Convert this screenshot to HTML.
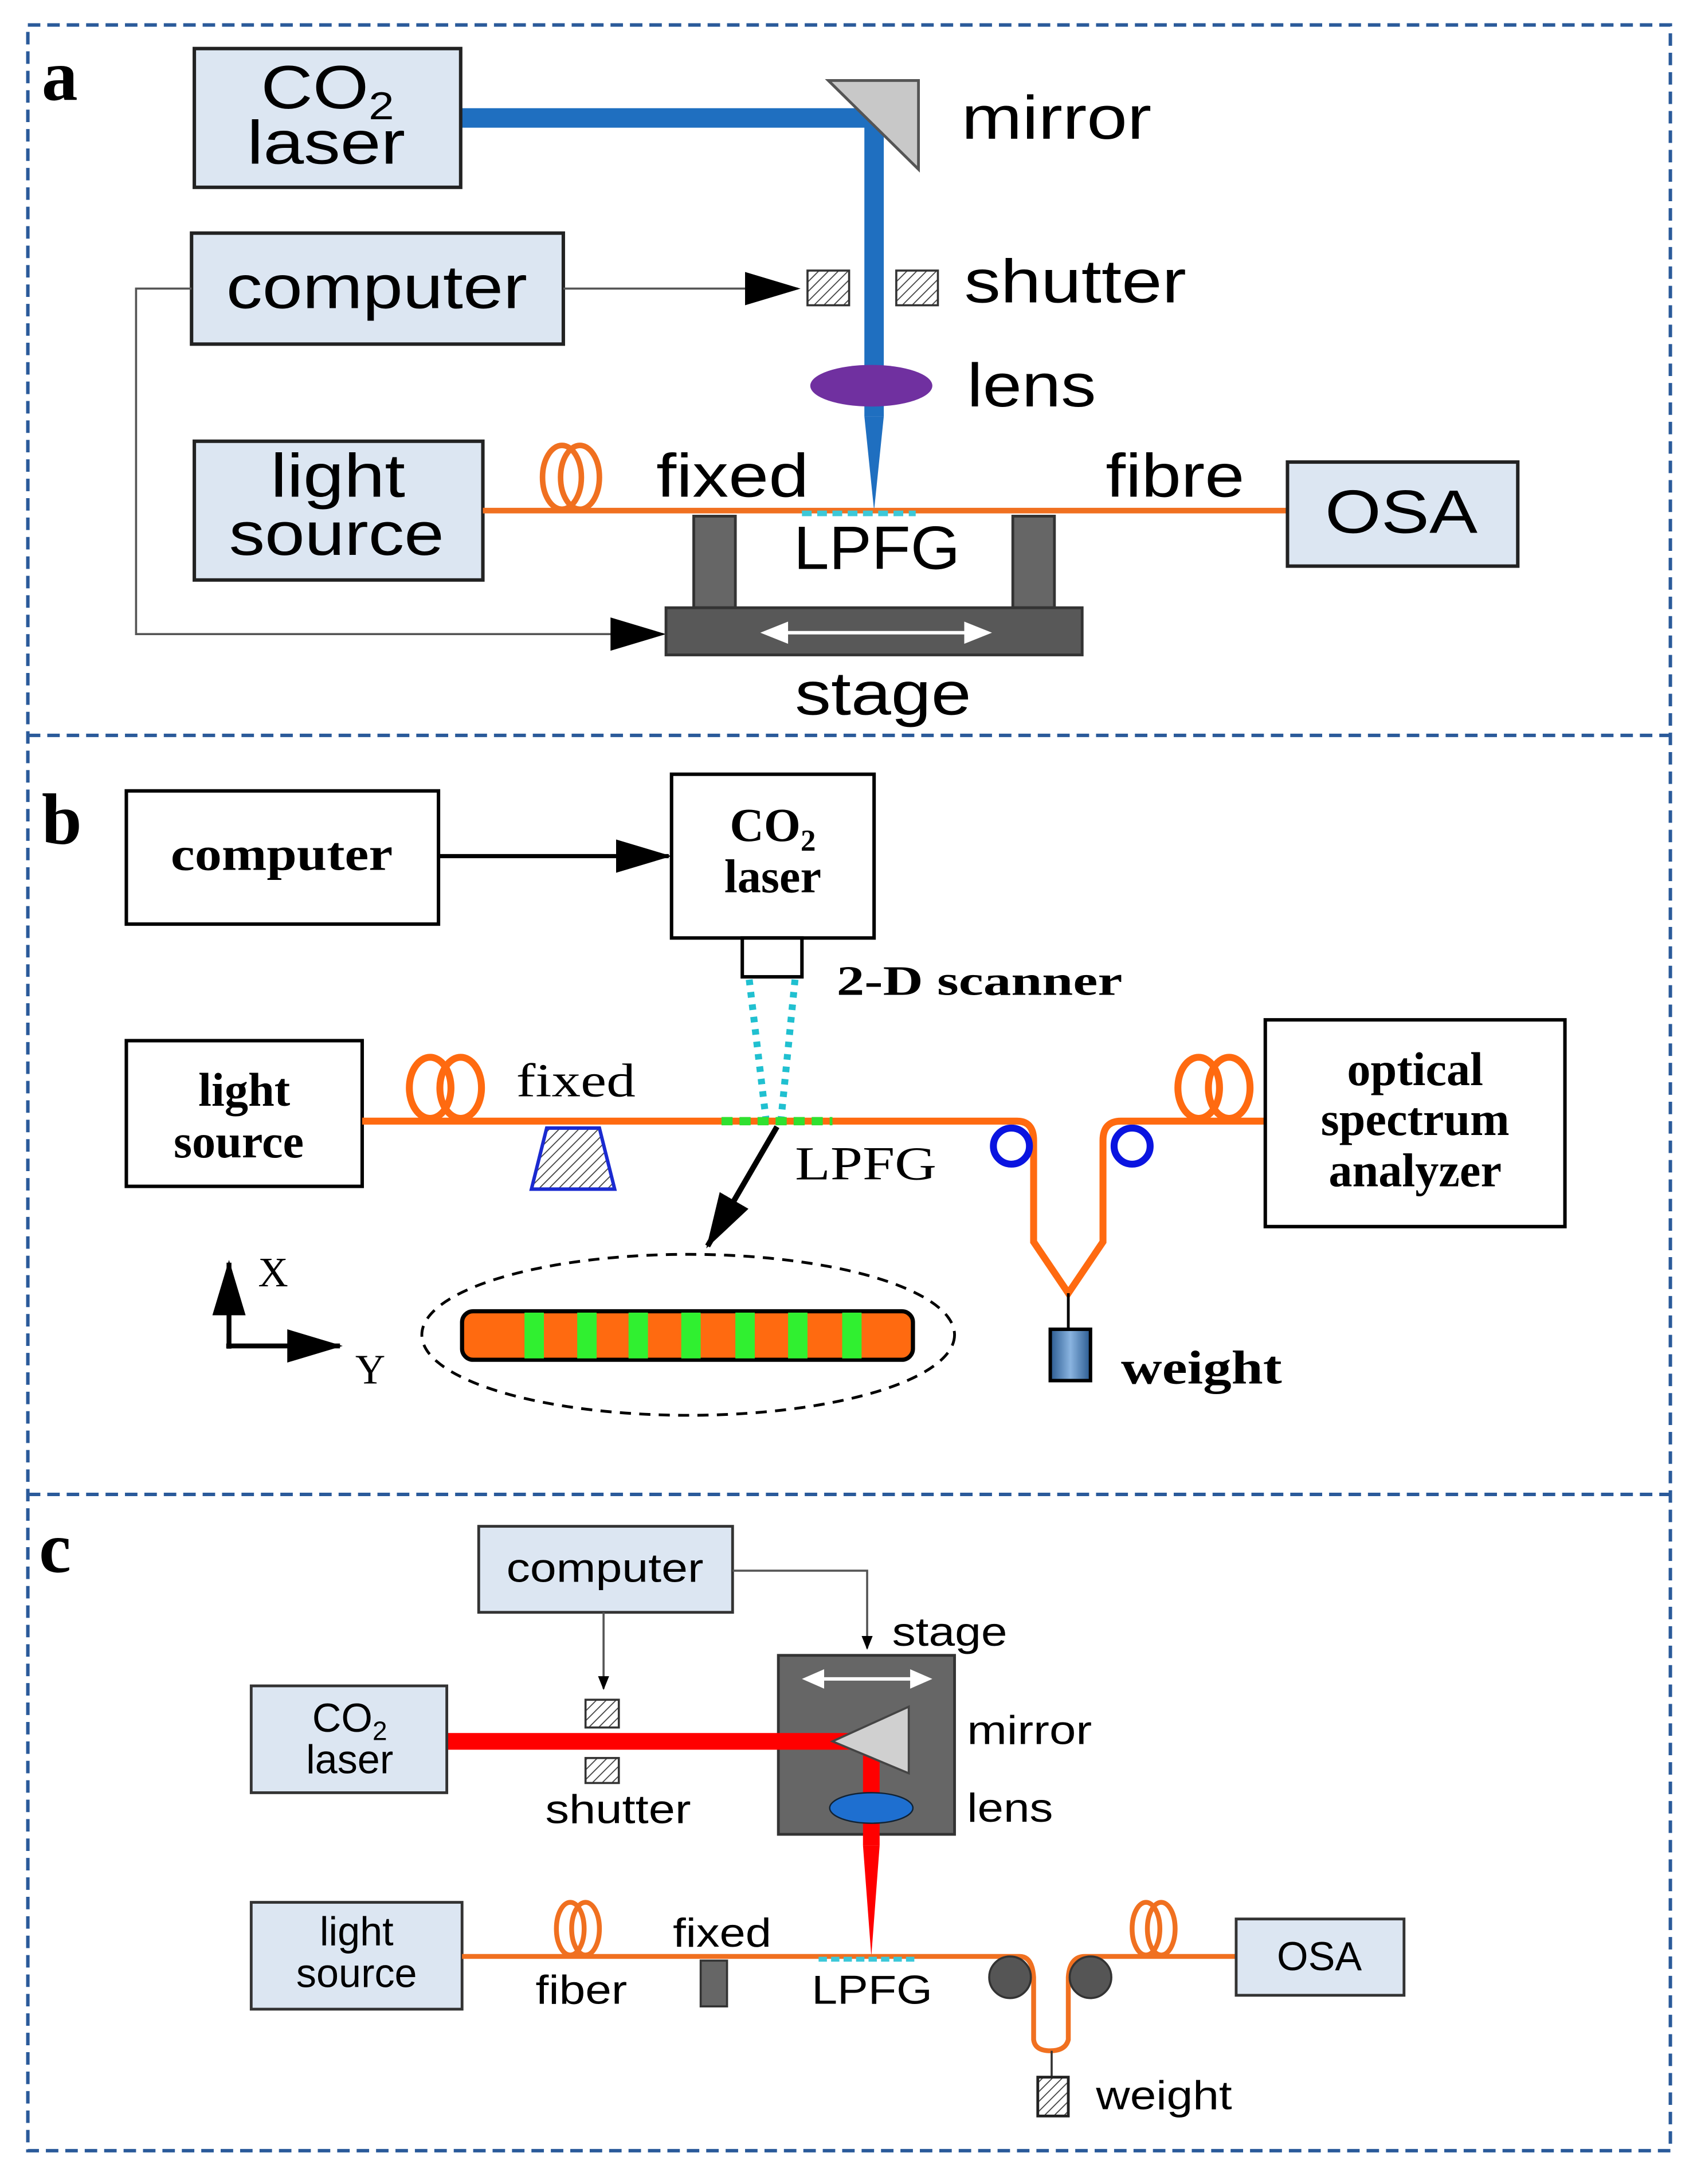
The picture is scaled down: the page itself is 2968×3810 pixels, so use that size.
<!DOCTYPE html>
<html><head><style>html,body{margin:0;padding:0;background:#fff}svg{display:block}</style></head>
<body>
<svg width="2968" height="3810" viewBox="0 0 1226 1574" xmlns="http://www.w3.org/2000/svg">
<defs>
<pattern id="h" width="5" height="5" patternUnits="userSpaceOnUse" patternTransform="rotate(45)"><rect width="5" height="5" fill="#fff"/><line x1="0" y1="0" x2="0" y2="5" stroke="#444" stroke-width="1.5"/></pattern>
<marker id="ar" markerWidth="10" markerHeight="8" refX="9" refY="4" orient="auto" markerUnits="userSpaceOnUse"><path d="M0,0 L10,4 L0,8z" fill="#000"/></marker>
<marker id="arb" markerWidth="40" markerHeight="24" refX="38" refY="12" orient="auto" markerUnits="userSpaceOnUse"><path d="M0,0 L40,12 L0,24z" fill="#000"/></marker>
<linearGradient id="wg" x1="0" x2="1"><stop offset="0" stop-color="#2a5a90"/><stop offset=".5" stop-color="#8ab4e0"/><stop offset="1" stop-color="#2a5a90"/></linearGradient>
</defs>
<g fill="none" stroke="#2a5a9a" stroke-width="2.5" stroke-dasharray="9,5">
<rect x="20" y="18" width="1184" height="1532"/>
<line x1="20" y1="530" x2="1204" y2="530"/><line x1="20" y1="1077" x2="1204" y2="1077"/>
</g>
<!-- Panel a -->
<g font-family="Liberation Sans, sans-serif" font-size="44" fill="#000" lengthAdjust="spacingAndGlyphs">
<text x="30" y="72" font-family="Liberation Serif, serif" font-weight="bold" font-size="52">a</text>
<path d="M332,85 H630 V300" stroke="#1f6fc0" stroke-width="14" fill="none"/>
<path d="M623,300 L637,300 L630,368z" fill="#1f6fc0"/>
<polygon points="597,58 662,58 662,122" fill="#c8c8c8" stroke="#555" stroke-width="2"/>
<rect x="140" y="35" width="192" height="100" fill="#dce6f2" stroke="#222" stroke-width="2.5"/>
<text x="188" y="78" textLength="96" lengthAdjust="spacingAndGlyphs">CO<tspan font-size="28" dy="8">2</tspan></text>
<text x="178" y="118" textLength="114" lengthAdjust="spacingAndGlyphs">laser</text>
<text x="693" y="100" textLength="137" lengthAdjust="spacingAndGlyphs">mirror</text>
<rect x="138" y="168" width="268" height="80" fill="#dce6f2" stroke="#222" stroke-width="2.5"/>
<text x="163" y="222" textLength="217" lengthAdjust="spacingAndGlyphs">computer</text>
<line x1="406" y1="208" x2="575" y2="208" stroke="#555" stroke-width="1.5" marker-end="url(#arb)"/>
<rect x="582" y="195" width="30" height="25" fill="url(#h)" stroke="#333" stroke-width="1.5"/>
<rect x="646" y="195" width="30" height="25" fill="url(#h)" stroke="#333" stroke-width="1.5"/>
<text x="695" y="218" textLength="160" lengthAdjust="spacingAndGlyphs">shutter</text>
<ellipse cx="628" cy="278" rx="44" ry="15" fill="#7030a0"/>
<text x="697" y="293" textLength="93" lengthAdjust="spacingAndGlyphs">lens</text>
<path d="M138,208 H98 V457 H478" stroke="#555" stroke-width="1.5" fill="none" marker-end="url(#arb)"/>
<rect x="140" y="318" width="208" height="100" fill="#dce6f2" stroke="#222" stroke-width="2.5"/>
<text x="195" y="358" textLength="97" lengthAdjust="spacingAndGlyphs">light</text>
<text x="165" y="400" textLength="155" lengthAdjust="spacingAndGlyphs">source</text>
<line x1="348" y1="368" x2="928" y2="368" stroke="#f07020" stroke-width="4"/>
<ellipse cx="405" cy="344" rx="14" ry="23" fill="none" stroke="#f07020" stroke-width="4"/>
<ellipse cx="418" cy="344" rx="14" ry="23" fill="none" stroke="#f07020" stroke-width="4"/>
<line x1="578" y1="370" x2="660" y2="370" stroke="#3cc8d8" stroke-width="4" stroke-dasharray="7,4"/>
<text x="473" y="358" textLength="110" lengthAdjust="spacingAndGlyphs">fixed</text>
<text x="797" y="358" textLength="100" lengthAdjust="spacingAndGlyphs">fibre</text>
<text x="572" y="410" textLength="120" lengthAdjust="spacingAndGlyphs">LPFG</text>
<rect x="928" y="333" width="166" height="75" fill="#dce6f2" stroke="#222" stroke-width="2.5"/>
<text x="955" y="384" textLength="110" lengthAdjust="spacingAndGlyphs">OSA</text>
<rect x="500" y="372" width="30" height="66" fill="#666" stroke="#333" stroke-width="2"/>
<rect x="730" y="372" width="30" height="66" fill="#666" stroke="#333" stroke-width="2"/>
<rect x="480" y="438" width="300" height="34" fill="#585858" stroke="#333" stroke-width="2"/>
<line x1="560" y1="456" x2="703" y2="456" stroke="#fff" stroke-width="2.5"/>
<path d="M548,456 L568,448 L568,464z M715,456 L695,448 L695,464z" fill="#fff"/>
<text x="573" y="515" textLength="127" lengthAdjust="spacingAndGlyphs">stage</text>
</g>
<!-- Panel b -->
<g font-family="Liberation Serif, serif" font-size="34" font-weight="bold" fill="#000">
<text x="30" y="608" font-size="52">b</text>
<rect x="91" y="570" width="225" height="96" fill="#fff" stroke="#000" stroke-width="2.5"/>
<text x="123" y="627" textLength="160" lengthAdjust="spacingAndGlyphs">computer</text>
<line x1="316" y1="617" x2="482" y2="617" stroke="#000" stroke-width="3" marker-end="url(#arb)"/>
<rect x="484" y="558" width="146" height="118" fill="#fff" stroke="#000" stroke-width="2.5"/>
<text x="557" y="606" text-anchor="middle">CO<tspan font-size="22" dy="7">2</tspan></text>
<text x="557" y="643" text-anchor="middle">laser</text>
<rect x="535" y="676" width="43" height="28" fill="#fff" stroke="#000" stroke-width="2.5"/>
<text x="603" y="717" font-size="30" textLength="206" lengthAdjust="spacingAndGlyphs">2-D scanner</text>
<line x1="540" y1="706" x2="552" y2="806" stroke="#20c0d0" stroke-width="5" stroke-dasharray="4,5"/>
<line x1="573" y1="706" x2="563" y2="806" stroke="#20c0d0" stroke-width="5" stroke-dasharray="4,5"/>
<rect x="91" y="750" width="170" height="105" fill="#fff" stroke="#000" stroke-width="2.5"/>
<text x="176" y="797" text-anchor="middle">light</text>
<text x="172" y="834" text-anchor="middle">source</text>
<path d="M261,808 H733 Q745,808 745,822 V895 L770,932 L795,895 V822 Q795,808 808,808 H912" fill="none" stroke="#ff6a10" stroke-width="5"/>
<ellipse cx="310" cy="784" rx="15" ry="22" fill="none" stroke="#ff6a10" stroke-width="5"/>
<ellipse cx="332" cy="784" rx="15" ry="22" fill="none" stroke="#ff6a10" stroke-width="5"/>
<ellipse cx="864" cy="784" rx="15" ry="22" fill="none" stroke="#ff6a10" stroke-width="5"/>
<ellipse cx="886" cy="784" rx="15" ry="22" fill="none" stroke="#ff6a10" stroke-width="5"/>
<line x1="520" y1="808" x2="600" y2="808" stroke="#30e030" stroke-width="6" stroke-dasharray="8,5"/>
<circle cx="729" cy="826" r="13" fill="none" stroke="#0a14e0" stroke-width="5"/>
<circle cx="816" cy="826" r="13" fill="none" stroke="#0a14e0" stroke-width="5"/>
<polygon points="394,813 432,813 443,857 383,857" fill="url(#h)" stroke="#1a2ad0" stroke-width="2.5"/>
<text x="372" y="790" font-weight="normal" textLength="86" lengthAdjust="spacingAndGlyphs">fixed</text>
<text x="573" y="850" font-weight="normal" textLength="102" lengthAdjust="spacingAndGlyphs">LPFG</text>
<line x1="560" y1="812" x2="510" y2="898" stroke="#000" stroke-width="4" marker-end="url(#arb)"/>
<ellipse cx="496" cy="962" rx="192" ry="58" fill="none" stroke="#000" stroke-width="2" stroke-dasharray="8,6"/>
<rect x="333" y="945" width="325" height="35" rx="8" fill="#ff6a10" stroke="#000" stroke-width="3"/>
<g fill="#30f030"><rect x="378" y="946" width="14" height="33"/><rect x="416" y="946" width="14" height="33"/><rect x="453" y="946" width="14" height="33"/><rect x="491" y="946" width="14" height="33"/><rect x="530" y="946" width="14" height="33"/><rect x="568" y="946" width="14" height="33"/><rect x="607" y="946" width="14" height="33"/></g>
<line x1="165" y1="972" x2="165" y2="910" stroke="#000" stroke-width="3.5" marker-end="url(#arb)"/>
<line x1="163" y1="970" x2="245" y2="970" stroke="#000" stroke-width="3.5" marker-end="url(#arb)"/>
<text x="186" y="927" font-weight="normal" font-size="30">X</text>
<text x="256" y="997" font-weight="normal" font-size="30">Y</text>
<line x1="770" y1="932" x2="770" y2="958" stroke="#000" stroke-width="2"/>
<rect x="757" y="958" width="29" height="37" fill="url(#wg)" stroke="#000" stroke-width="2.5"/>
<text x="808" y="997" textLength="116" lengthAdjust="spacingAndGlyphs">weight</text>
<rect x="912" y="735" width="216" height="149" fill="#fff" stroke="#000" stroke-width="2.5"/>
<text x="1020" y="782" text-anchor="middle">optical</text>
<text x="1020" y="818" text-anchor="middle">spectrum</text>
<text x="1020" y="855" text-anchor="middle">analyzer</text>
</g>
<!-- Panel c -->
<g font-family="Liberation Sans, sans-serif" font-size="29" fill="#000">
<text x="28" y="1133" font-family="Liberation Serif, serif" font-weight="bold" font-size="52">c</text>
<rect x="345" y="1100" width="183" height="62" fill="#dce6f2" stroke="#333" stroke-width="2"/>
<text x="365" y="1140" textLength="142" lengthAdjust="spacingAndGlyphs">computer</text>
<line x1="435" y1="1162" x2="435" y2="1217" stroke="#555" stroke-width="1.5" marker-end="url(#ar)"/>
<path d="M528,1132 H625 V1188" stroke="#555" stroke-width="1.5" fill="none" marker-end="url(#ar)"/>
<text x="643" y="1186" textLength="83" lengthAdjust="spacingAndGlyphs">stage</text>
<rect x="561" y="1193" width="127" height="129" fill="#666" stroke="#333" stroke-width="2"/>
<line x1="590" y1="1210" x2="660" y2="1210" stroke="#fff" stroke-width="2.5"/>
<path d="M578,1210 L594,1203 L594,1217z M672,1210 L656,1203 L656,1217z" fill="#fff"/>
<path d="M322,1255 H628 V1330" stroke="#ff0000" stroke-width="12" fill="none"/>
<path d="M622,1330 L634,1330 L628,1410z" fill="#ff0000"/>
<polygon points="600,1255 655,1230 655,1278" fill="#d0d0d0" stroke="#444" stroke-width="1.5"/>
<ellipse cx="628" cy="1303" rx="30" ry="11" fill="#1e6fd0" stroke="#123" stroke-width="1"/>
<text x="697" y="1257" textLength="90" lengthAdjust="spacingAndGlyphs">mirror</text>
<text x="697" y="1313" textLength="62" lengthAdjust="spacingAndGlyphs">lens</text>
<rect x="181" y="1215" width="141" height="77" fill="#dce6f2" stroke="#333" stroke-width="2"/>
<text x="252" y="1248" text-anchor="middle">CO<tspan font-size="19" dy="6">2</tspan></text>
<text x="252" y="1278" text-anchor="middle">laser</text>
<rect x="422" y="1225" width="24" height="20" fill="url(#h)" stroke="#333" stroke-width="1.5"/>
<rect x="422" y="1267" width="24" height="18" fill="url(#h)" stroke="#333" stroke-width="1.5"/>
<text x="393" y="1314" textLength="105" lengthAdjust="spacingAndGlyphs">shutter</text>
<rect x="181" y="1371" width="152" height="77" fill="#dce6f2" stroke="#333" stroke-width="2"/>
<text x="257" y="1402" text-anchor="middle">light</text>
<text x="257" y="1432" text-anchor="middle">source</text>
<path d="M333,1410 H735 Q744,1410 745,1425 V1470 Q746,1478 757,1478 Q768,1478 770,1470 V1425 Q771,1410 782,1410 H891" fill="none" stroke="#f07020" stroke-width="3.5"/>
<ellipse cx="411" cy="1390" rx="10" ry="19" fill="none" stroke="#f07020" stroke-width="3.5"/>
<ellipse cx="422" cy="1390" rx="10" ry="19" fill="none" stroke="#f07020" stroke-width="3.5"/>
<ellipse cx="826" cy="1390" rx="10" ry="19" fill="none" stroke="#f07020" stroke-width="3.5"/>
<ellipse cx="837" cy="1390" rx="10" ry="19" fill="none" stroke="#f07020" stroke-width="3.5"/>
<rect x="891" y="1383" width="121" height="55" fill="#dce6f2" stroke="#333" stroke-width="2"/>
<text x="951" y="1420" text-anchor="middle">OSA</text>
<text x="386" y="1444" textLength="66" lengthAdjust="spacingAndGlyphs">fiber</text>
<text x="485" y="1403" textLength="71" lengthAdjust="spacingAndGlyphs">fixed</text>
<rect x="505" y="1413" width="19" height="33" fill="#666" stroke="#333" stroke-width="1.5"/>
<line x1="590" y1="1412" x2="660" y2="1412" stroke="#3cc8d8" stroke-width="3.5" stroke-dasharray="6,3"/>
<text x="585" y="1444" textLength="87" lengthAdjust="spacingAndGlyphs">LPFG</text>
<circle cx="728" cy="1425" r="15" fill="#555" stroke="#333" stroke-width="1.5"/>
<circle cx="786" cy="1425" r="15" fill="#555" stroke="#333" stroke-width="1.5"/>
<line x1="758" y1="1478" x2="758" y2="1497" stroke="#333" stroke-width="1.5"/>
<rect x="748" y="1497" width="22" height="28" fill="url(#h)" stroke="#222" stroke-width="2"/>
<text x="790" y="1520" textLength="98" lengthAdjust="spacingAndGlyphs">weight</text>
</g>
</svg>
</body></html>
